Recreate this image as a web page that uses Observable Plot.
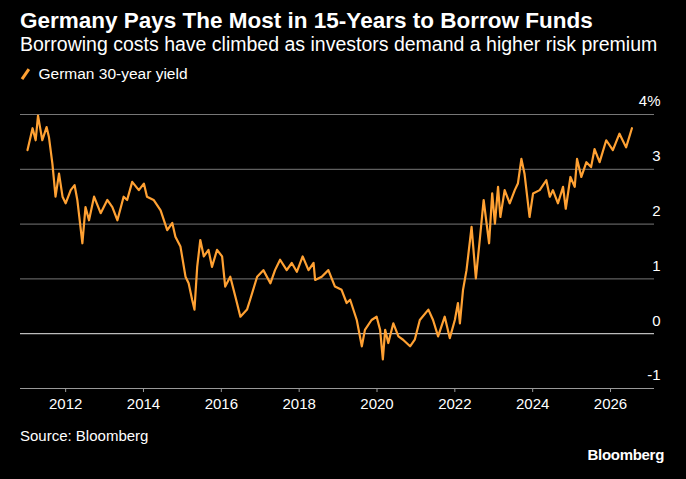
<!DOCTYPE html>
<html><head><meta charset="utf-8">
<script src="https://cdn.jsdelivr.net/npm/d3@7"></script>
<script src="https://cdn.jsdelivr.net/npm/@observablehq/plot@0.6"></script>
<style>
body{margin:0;background:#000;color:#fff;font-family:"Liberation Sans",Arial,sans-serif;width:686px;height:479px;overflow:hidden;position:relative}
#t{position:absolute;left:20px;top:8px;font-size:22.5px;font-weight:bold}
#s{position:absolute;left:20px;top:33px;font-size:19.5px}
#l{position:absolute;left:20px;top:65px;font-size:15.5px;display:flex;align-items:center}
#l span.sw{display:inline-block;width:2.5px;height:12px;background:#ffa133;transform:rotate(35deg);margin:0 12px 0 4px}
#c{position:absolute;left:0;top:90px}
#src{position:absolute;left:20px;top:427px;font-size:15px}
#bb{position:absolute;right:22px;top:446px;font-size:15px;font-weight:bold;letter-spacing:-0.3px}
</style></head><body>
<div id="t">Germany Pays The Most in 15-Years to Borrow Funds</div>
<div id="s">Borrowing costs have climbed as investors demand a higher risk premium</div>
<div id="l"><span class="sw"></span>German 30-year yield</div>
<div id="c"></div>
<div id="src">Source: Bloomberg</div>
<div id="bb">Bloomberg</div>
<script>
const years = [2011.02,2011.15,2011.23,2011.29,2011.40,2011.51,2011.57,2011.66,2011.74,2011.83,2011.92,2012.00,2012.13,2012.23,2012.30,2012.43,2012.51,2012.60,2012.73,2012.90,2013.07,2013.20,2013.33,2013.49,2013.58,2013.71,2013.88,2014.01,2014.09,2014.26,2014.44,2014.61,2014.74,2014.82,2014.95,2015.08,2015.16,2015.25,2015.31,2015.38,2015.46,2015.55,2015.67,2015.76,2015.89,2016.02,2016.10,2016.23,2016.36,2016.49,2016.66,2016.74,2016.92,2017.08,2017.26,2017.38,2017.51,2017.68,2017.81,2017.94,2018.09,2018.24,2018.37,2018.41,2018.58,2018.75,2018.92,2019.09,2019.22,2019.31,2019.48,2019.61,2019.69,2019.86,2019.99,2020.08,2020.15,2020.21,2020.29,2020.42,2020.55,2020.67,2020.85,2020.97,2021.10,2021.32,2021.44,2021.57,2021.74,2021.87,2022.00,2022.08,2022.13,2022.21,2022.30,2022.43,2022.54,2022.64,2022.74,2022.88,2022.96,2023.03,2023.11,2023.17,2023.28,2023.41,2023.54,2023.62,2023.71,2023.79,2023.92,2024.01,2024.18,2024.35,2024.44,2024.52,2024.65,2024.78,2024.85,2024.97,2025.08,2025.14,2025.25,2025.38,2025.50,2025.59,2025.72,2025.89,2026.06,2026.23,2026.40,2026.55];
const yields = [3.35,3.75,3.53,3.98,3.53,3.77,3.59,3.10,2.50,2.92,2.50,2.38,2.62,2.71,2.44,1.65,2.31,2.07,2.50,2.20,2.44,2.31,2.07,2.50,2.44,2.77,2.62,2.74,2.50,2.44,2.25,1.89,2.02,1.77,1.59,1.04,0.92,0.62,0.44,1.22,1.71,1.41,1.53,1.22,1.53,1.41,0.86,1.04,0.68,0.31,0.44,0.62,1.04,1.16,0.92,1.16,1.35,1.16,1.29,1.13,1.41,1.16,1.29,0.98,1.04,1.16,0.86,0.80,0.56,0.62,0.25,-0.23,0.07,0.25,0.31,0.07,-0.47,0.07,-0.17,0.19,-0.05,-0.11,-0.23,-0.11,0.25,0.44,0.25,-0.05,0.31,-0.08,0.25,0.56,0.19,0.80,1.16,1.95,1.01,1.71,2.44,1.65,2.56,2.01,2.68,2.13,2.62,2.38,2.62,2.74,3.19,2.92,2.13,2.56,2.62,2.80,2.50,2.62,2.38,2.68,2.28,2.86,2.68,3.19,2.86,3.13,3.04,3.37,3.13,3.53,3.35,3.65,3.40,3.75];
const xTicks = [2012,2014,2016,2018,2020,2022,2024,2026];
const yTicks = [-1,0,1,2,3,4];
const data = years.map((y,i)=>({x:y,v:yields[i]}));
const chart = Plot.plot({
  width:686,height:330,marginLeft:20,marginRight:32,marginTop:24,marginBottom:32,
  style:{background:"#000",color:"#fff",fontFamily:"Liberation Sans, Arial, sans-serif",fontSize:"15px"},
  x:{domain:[2010.84,2027.13],ticks:xTicks,tickFormat:d=>String(d),label:null},
  y:{domain:[-1,4],ticks:yTicks,label:null},
  marks:[
    Plot.gridY(yTicks.filter(d=>d!==0&&d!==-1),{stroke:"#777",strokeOpacity:1,strokeWidth:1}),
    Plot.ruleY([0],{stroke:"#bbb",strokeWidth:1.2}),
    Plot.ruleY([-1],{stroke:"#999",strokeWidth:1}),
    Plot.axisX({ticks:xTicks,tickFormat:d=>String(d),tickSize:4,stroke:"#999",tickPadding:6,fill:"#fff",label:null}),
    Plot.axisY({anchor:"right",ticks:yTicks,tickSize:0,tickPadding:0,textAnchor:"end",dx:6,dy:-13,tickFormat:d=>d===4?"4%":String(d),fill:"#fff",label:null}),
    Plot.line(data,{x:"x",y:"v",stroke:"#ffa133",strokeWidth:2.2})
  ]
});
document.getElementById("c").appendChild(chart);
</script>
</body></html>
